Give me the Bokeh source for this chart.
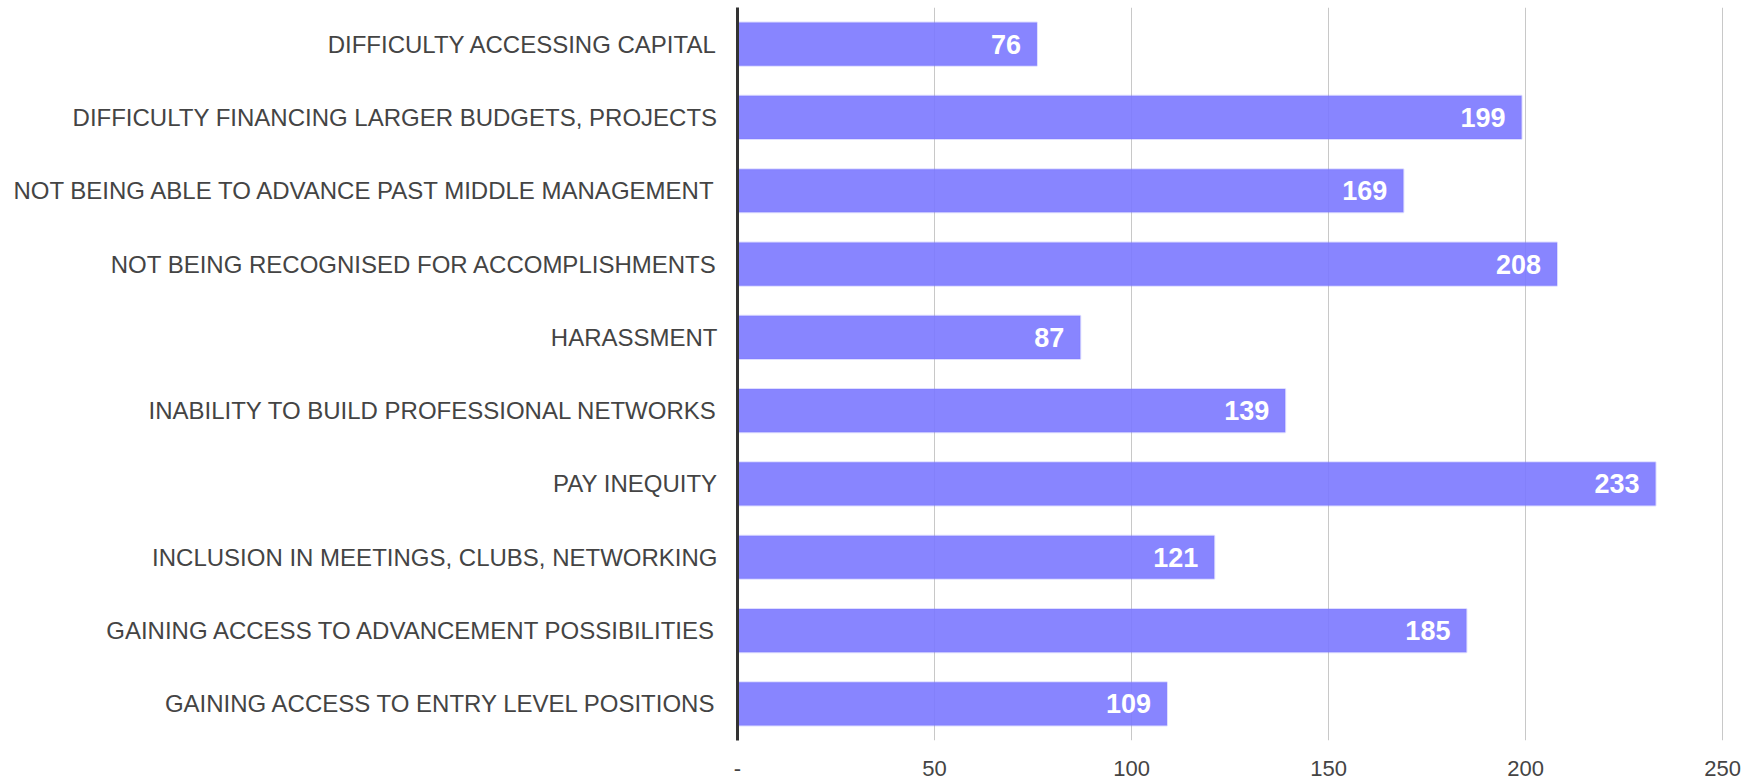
from bokeh.plotting import figure
from bokeh.models import ColumnDataSource, FixedTicker, Range1d, LabelSet
from bokeh.core.properties import value
from bokeh.embed import file_html
from bokeh.resources import INLINE

categories = [
    "DIFFICULTY ACCESSING CAPITAL",
    "DIFFICULTY FINANCING LARGER BUDGETS, PROJECTS",
    "NOT BEING ABLE TO ADVANCE PAST MIDDLE MANAGEMENT",
    "NOT BEING RECOGNISED FOR ACCOMPLISHMENTS",
    "HARASSMENT",
    "INABILITY TO BUILD PROFESSIONAL NETWORKS",
    "PAY INEQUITY",
    "INCLUSION IN MEETINGS, CLUBS, NETWORKING",
    "GAINING ACCESS TO ADVANCEMENT POSSIBILITIES",
    "GAINING ACCESS TO ENTRY LEVEL POSITIONS",
]
values = [76, 199, 169, 208, 87, 139, 233, 121, 185, 109]
x_ticks = [0, 50, 100, 150, 200, 250]
x_tick_labels = ["-", "50", "100", "150", "200", "250"]

source = ColumnDataSource(dict(cat=categories, val=values,
                               lbl=[str(v) for v in values]))

p = figure(width=1750, height=783, y_range=list(reversed(categories)),
           x_range=Range1d(0, 257.1), output_backend="svg",
           toolbar_location=None, min_border_left=737, min_border_right=0,
           min_border_top=7, min_border_bottom=43)
p.outline_line_color = None

p.hbar(y="cat", right="val", left=0, height=0.59, source=source,
       fill_color="#7b78ff", fill_alpha=0.9,
       line_color="#7b78ff", line_alpha=0.25, line_width=2)

labels = LabelSet(x="val", y="cat", text="lbl", source=source,
                  x_offset=-16, text_align="right", text_baseline="middle",
                  text_color="white", text_font_style="bold",
                  text_font_size="27px", text_font=value("Liberation Sans"))
p.add_layout(labels)

p.xaxis.ticker = FixedTicker(ticks=x_ticks)
p.xaxis.major_label_overrides = {t: l for t, l in zip(x_ticks, x_tick_labels)}
p.xaxis.axis_line_color = None
p.xaxis.major_tick_line_color = None
p.xaxis.minor_tick_line_color = None
p.xaxis.major_label_text_font = "Liberation Sans"
p.xaxis.major_label_text_font_size = "22px"
p.xaxis.major_label_text_color = "#444444"
p.xaxis.major_label_standoff = 14

p.yaxis.axis_line_color = "#333333"
p.yaxis.axis_line_width = 3
p.yaxis.major_tick_line_color = None
p.yaxis.minor_tick_line_color = None
p.yaxis.major_label_text_font = "Liberation Sans"
p.yaxis.major_label_text_font_size = "24px"
p.yaxis.major_label_text_color = "#444444"
p.yaxis.major_label_standoff = 14

p.xgrid.ticker = FixedTicker(ticks=x_ticks)
p.xgrid.grid_line_color = "#c8c8c8"
p.ygrid.grid_line_color = None

open("out.html", "w").write(file_html(p, INLINE))
